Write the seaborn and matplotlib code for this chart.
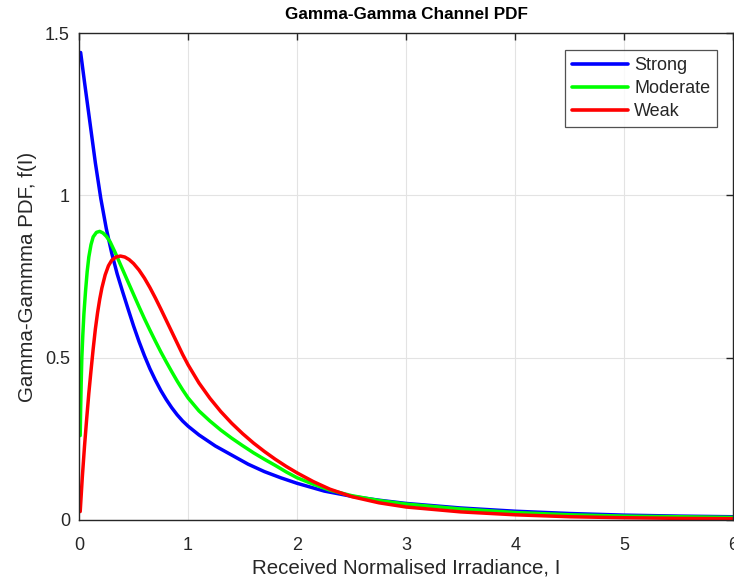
import numpy as np
import pandas as pd
import matplotlib
matplotlib.use("Agg")
import matplotlib.pyplot as plt
import seaborn as sns

# Values
strong_I = [0.015, 0.05, 0.10, 0.15, 0.20, 0.25, 0.30, 0.35, 0.40, 0.45, 0.50, 0.55, 0.60, 0.65,
            0.70, 0.75, 0.80, 0.85, 0.90, 0.95, 1.0, 1.1, 1.25, 1.4, 1.55, 1.7, 1.85, 2.0, 2.25,
            2.5, 2.75, 3.0, 3.5, 4.0, 4.5, 5.0, 5.5, 6.0]
strong_f = [1.44, 1.35, 1.225, 1.10, 0.99, 0.898, 0.822, 0.758, 0.703, 0.65, 0.598, 0.550, 0.506, 0.466,
            0.431, 0.399, 0.371, 0.346, 0.324, 0.305, 0.289, 0.262, 0.228, 0.20, 0.172, 0.149, 0.13, 0.113, 0.089,
            0.073, 0.061, 0.051, 0.037, 0.027, 0.02, 0.015, 0.012, 0.01]

moderate_I = [0.011, 0.015, 0.02, 0.026, 0.035, 0.045, 0.06, 0.075, 0.09, 0.11, 0.13, 0.16, 0.19,
              0.22, 0.25, 0.285, 0.33, 0.39, 0.45, 0.50, 0.55, 0.60, 0.65, 0.70, 0.75, 0.80, 0.85,
              0.90, 0.95, 1.0, 1.1, 1.2, 1.3, 1.4, 1.5, 1.6, 1.7, 1.8, 1.9, 2.0, 2.15, 2.3, 2.5,
              2.75, 3.0, 3.5, 4.0, 4.5, 5.0, 5.5, 6.0]
moderate_f = [0.26, 0.34, 0.42, 0.50, 0.57, 0.635, 0.705, 0.765, 0.81, 0.848, 0.872, 0.886, 0.889,
              0.884, 0.874, 0.857, 0.825, 0.779, 0.733, 0.695, 0.657, 0.62, 0.585, 0.551, 0.518, 0.487, 0.457,
              0.428, 0.401, 0.376, 0.336, 0.305, 0.277, 0.252, 0.229, 0.207, 0.187, 0.168, 0.148, 0.13, 0.11, 0.092, 0.075,
              0.06, 0.049, 0.034, 0.023, 0.016, 0.012, 0.01, 0.008]

weak_I = [0.011, 0.03, 0.05, 0.07, 0.09, 0.11, 0.13, 0.15, 0.17, 0.19, 0.21, 0.24, 0.27, 0.30,
          0.34, 0.38, 0.42, 0.46, 0.50, 0.55, 0.60, 0.65, 0.70, 0.75, 0.80, 0.85, 0.90, 0.95,
          1.0, 1.1, 1.2, 1.3, 1.4, 1.5, 1.6, 1.7, 1.8, 1.9, 2.0, 2.15, 2.3, 2.5, 2.75, 3.0,
          3.5, 4.0, 4.5, 5.0, 5.5, 6.0]
weak_f = [0.026, 0.13, 0.225, 0.31, 0.39, 0.46, 0.527, 0.588, 0.638, 0.68, 0.715, 0.755, 0.783, 0.80,
          0.81, 0.813, 0.81, 0.802, 0.79, 0.77, 0.745, 0.716, 0.684, 0.65, 0.615, 0.58, 0.545, 0.51,
          0.478, 0.422, 0.375, 0.334, 0.298, 0.266, 0.237, 0.211, 0.187, 0.165, 0.145, 0.118, 0.095, 0.072, 0.053, 0.04,
          0.025, 0.016, 0.01, 0.007, 0.005, 0.004]

series_names = ["Strong", "Moderate", "Weak"]
series_colors = ["#0000ff", "#00ff00", "#ff0000"]

x_ticks = [0, 1, 2, 3, 4, 5, 6]
y_ticks = [0, 0.5, 1, 1.5]
y_tick_labels = ["0", "0.5", "1", "1.5"]

df = pd.concat([
    pd.DataFrame({"I": strong_I, "f": strong_f, "Turbulence": "Strong"}),
    pd.DataFrame({"I": moderate_I, "f": moderate_f, "Turbulence": "Moderate"}),
    pd.DataFrame({"I": weak_I, "f": weak_f, "Turbulence": "Weak"}),
], ignore_index=True)

sns.set_style("white")
plt.rcParams["font.family"] = ["Liberation Sans", "DejaVu Sans"]

fig = plt.figure(figsize=(7.34, 5.83), dpi=100)
ax = fig.add_axes([79 / 734, 1 - 520 / 583, 1 - 79 / 734 - 0.0008, (520 - 33) / 583])

sns.lineplot(data=df, x="I", y="f", hue="Turbulence", hue_order=series_names,
             palette=series_colors, linewidth=2.5, sort=False, estimator=None, ax=ax)
for ln in ax.get_lines():
    ln.set_solid_capstyle("round")
    ln.set_solid_joinstyle("round")

ax.set_xlim(0, 6)
ax.set_ylim(0, 1.5)
ax.set_xticks(x_ticks)
ax.set_yticks(y_ticks)
ax.set_yticklabels(y_tick_labels)
ax.grid(True, color="#e3e3e3", linewidth=0.8)
ax.set_axisbelow(True)
ax.tick_params(direction="in", length=5, width=1.0, colors="#262626",
               labelsize=13, top=True, right=True)
ax.tick_params(axis="x", pad=12)
ax.tick_params(axis="y", pad=6.5)
for sp in ax.spines.values():
    sp.set_color("#262626")
    sp.set_linewidth(1.0)

ax.set_xlabel("Received Normalised Irradiance, I", fontsize=14.8, color="#262626", labelpad=3.5)
ax.set_ylabel("Gamma-Gammma PDF, f(I)", fontsize=14.8, color="#262626", labelpad=6)
ax.set_title("Gamma-Gamma Channel PDF", fontsize=12.3, fontweight="bold", color="black", pad=10)

leg = ax.legend(loc="upper right", bbox_to_anchor=((718 - 79) / 655, (520 - 50) / 487),
                borderaxespad=0, fontsize=13, frameon=True, fancybox=False,
                edgecolor="#262626", handlelength=3.1, borderpad=0.4,
                labelspacing=0.33, handletextpad=0.35, title=None)
leg.get_frame().set_linewidth(0.9)
for line in leg.get_lines():
    line.set_linewidth(2.6)

fig.savefig("out.png", dpi=100)
